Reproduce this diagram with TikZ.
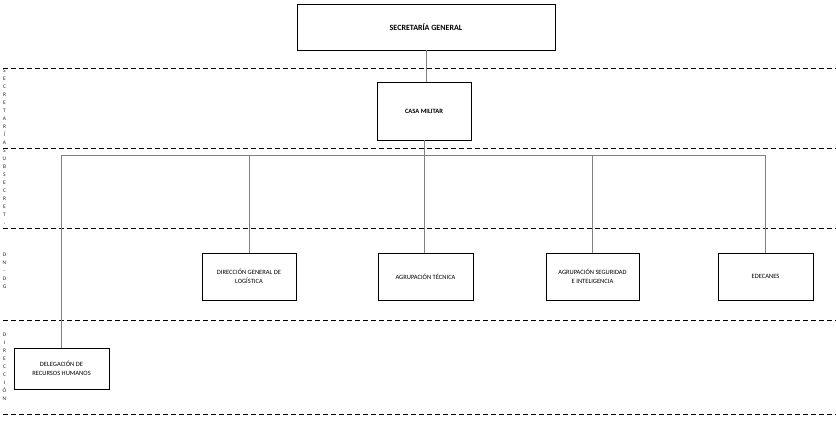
\documentclass[tikz,border=0pt]{standalone}
\usepackage{fontspec}
\setmainfont{Carlito}
\begin{document}
\begin{tikzpicture}[x=1pt,y=-1pt,
  box/.style={draw=black,line width=0.9pt,fill=white,inner sep=2pt,align=center,
    font=\fontsize{6.5}{8.5}\selectfont},
  conn/.style={draw=black!50,line width=0.9pt},
  sep/.style={draw=black,line width=0.8pt,dash pattern=on 5pt off 3pt},
  side/.style={inner sep=0pt,anchor=north,align=center,text=black!85,
    font=\fontsize{5.5}{8}\selectfont}]
\useasboundingbox (0,0) rectangle (836,421);
% separators
\foreach \yy in {68,148,228,320,414} \draw[sep] (3,\yy) -- (836,\yy);
% side labels
\node[side] (l1) at (4.5,69) {S\\E\\C\\R\\E\\T\\A\\R\\Í\\A};
\node[side] (l2) at (4.5,149) {S\\U\\B\\S\\E\\C\\R\\E\\T\\.};
\node[side] (l3) at (4.5,253) {D\\N\\-\\D\\G};
\node[side] (l4) at (4.5,333) {D\\I\\R\\E\\C\\C\\I\\Ó\\N};
% boxes
\node[box,minimum width=258pt,minimum height=46pt,font=\bfseries\fontsize{8}{10}\selectfont] (sg) at (426,27) {SECRETARÍA GENERAL};
\node[box,minimum width=94pt,minimum height=58pt,font=\bfseries\fontsize{6.5}{8.5}\selectfont] (cm) at (424,111) {CASA MILITAR};
\node[box,minimum width=94pt,minimum height=47pt] (dgl) at (249,276.5) {DIRECCIÓN GENERAL DE\\LOGÍSTICA};
\node[box,minimum width=95pt,minimum height=47pt] (at) at (425.5,276.5) {AGRUPACIÓN TÉCNICA};
\node[box,minimum width=93pt,minimum height=47pt] (asi) at (592.5,276.5) {AGRUPACIÓN SEGURIDAD\\E INTELIGENCIA};
\node[box,minimum width=95pt,minimum height=47pt] (ed) at (765.5,276.5) {EDECANES};
\node[box,minimum width=95pt,minimum height=41pt] (drh) at (61.5,368.5) {DELEGACIÓN DE\\RECURSOS HUMANOS};
% connectors
\coordinate (bus) at (424,155);
\draw[conn] (sg.south) -- (sg.south |- cm.north);
\draw[conn] (cm.south) -- (cm.south |- at.north);
\draw[conn] (drh.north) -- (drh.north |- bus) -- (ed.north |- bus) -- (ed.north);
\draw[conn] (dgl.north) -- (dgl.north |- bus);
\draw[conn] (asi.north) -- (asi.north |- bus);
\end{tikzpicture}
\end{document}
